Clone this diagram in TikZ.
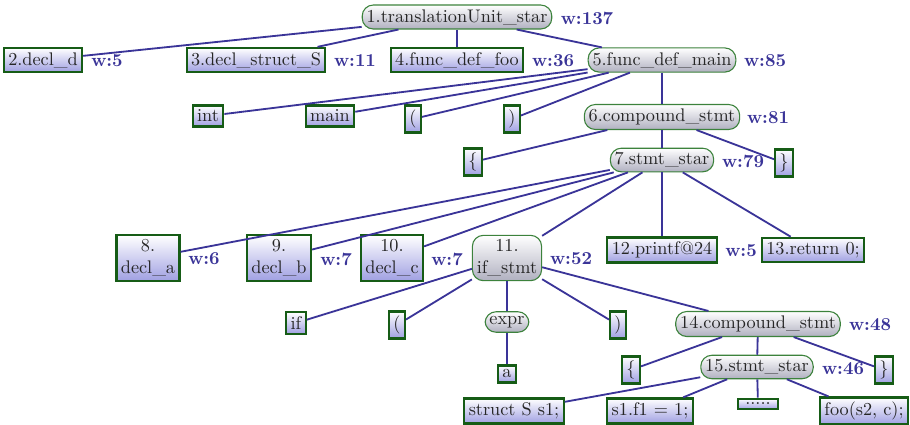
\documentclass[tikz,border=0pt]{standalone}
\usepackage{tikz}
\definecolor{edgeblue}{RGB}{58,52,152}
\definecolor{leafgreen}{RGB}{22,92,22}
\definecolor{innergreen}{RGB}{60,130,60}
\definecolor{leafblue}{RGB}{160,160,226}
\definecolor{innergray}{RGB}{176,176,192}
\tikzstyle{leaf} = [rectangle, draw=leafgreen, line width=1.2pt, top color=white, bottom color=leafblue, text=black!85, inner sep=2.4pt, align=center]
\tikzstyle{inner} = [rectangle, rounded corners=6pt, draw=innergreen, line width=0.6pt, top color=white, bottom color=innergray, text=black!85, inner sep=2.4pt, align=center]
\tikzstyle{weight} = [font=\bfseries, text=edgeblue]
\tikzstyle{edge} = [draw=edgeblue, line width=1pt]

\begin{document}
\begin{tikzpicture} [x=0.548pt, y=-0.548pt]
        \useasboundingbox (0,0) rectangle (910,424);
        % top level
        \node (n1) [inner] at (457,17) {1.translationUnit\_star};
        \node (w1) [weight] at (587,18) {w:137};
        \node (n2) [leaf] at (43,60) {2.decl\_d};
        \node (w2) [weight] at (107,61) {w:5};
        \node (n3) [leaf] at (256,60) {3.decl\_struct\_S};
        \node (w3) [weight] at (355,61) {w:11};
        \node (n4) [leaf] at (457,60) {4.func\_def\_foo};
        \node (w4) [weight] at (553,61) {w:36};
        \node (n5) [inner] at (662,60) {5.func\_def\_main};
        \node (w5) [weight] at (765,61) {w:85};
        % main function
        \node (int) [leaf] at (208,116) {int};
        \node (main) [leaf] at (330,116) {main};
        \node (lpar) [leaf] at (413,119) {(};
        \node (rpar) [leaf] at (512,119) {)};
        \node (n6) [inner] at (662,117) {6.compound\_stmt};
        \node (w6) [weight] at (768,118) {w:81};
        \node (lbr) [leaf] at (473,162) {\{};
        \node (n7) [inner] at (662,160) {7.stmt\_star};
        \node (w7) [weight] at (743,161) {w:79};
        \node (rbr) [leaf] at (784,163) {\}};
        % statements
        \node (n8) [leaf] at (148,258) {8.\\decl\_a};
        \node (w8) [weight] at (204,259) {w:6};
        \node (n9) [leaf] at (279,258) {9.\\decl\_b};
        \node (w9) [weight] at (336,259) {w:7};
        \node (n10) [leaf] at (392,258) {10.\\decl\_c};
        \node (w10) [weight] at (447,259) {w:7};
        \node (n11) [inner] at (507,258) {11.\\if\_stmt};
        \node (w11) [weight] at (571,259) {w:52};
        \node (n12) [leaf] at (662,250) {12.printf@24};
        \node (w12) [weight] at (741,251) {w:5};
        \node (n13) [leaf] at (813,250) {13.return 0;};
        % if statement
        \node (if) [leaf] at (296,323) {if};
        \node (iflpar) [leaf] at (397,325) {(};
        \node (expr) [inner] at (507,322) {expr};
        \node (ifrpar) [leaf] at (618,325) {)};
        \node (n14) [inner] at (758,324) {14.compound\_stmt};
        \node (w14) [weight] at (870,325) {w:48};
        \node (a) [leaf] at (507,374) {a};
        \node (iflbr) [leaf] at (631,370) {\{};
        \node (n15) [inner] at (757,367) {15.stmt\_star};
        \node (w15) [weight] at (843,369) {w:46};
        \node (ifrbr) [leaf] at (884,370) {\}};
        \node (s1) [leaf] at (514,411) {struct S s1;};
        \node (s2) [leaf] at (650,411) {s1.f1 = 1;};
        \node (s3) [leaf, inner xsep=4pt] at (758,404) {.....};
        \node (s4) [leaf] at (864,411) {foo(s2, c);};
        % edges
        \draw [edge] (n1) -- (n2);
        \draw [edge] (n1) -- (n3);
        \draw [edge] (n1) -- (n4);
        \draw [edge] (n1) -- (n5);
        \draw [edge] (n5) -- (int);
        \draw [edge] (n5) -- (main);
        \draw [edge] (n5) -- (lpar);
        \draw [edge] (n5) -- (rpar);
        \draw [edge] (n5) -- (n6);
        \draw [edge] (n6) -- (lbr);
        \draw [edge] (n6) -- (n7);
        \draw [edge] (n6) -- (rbr);
        \draw [edge] (n7) -- (n8);
        \draw [edge] (n7) -- (n9);
        \draw [edge] (n7) -- (n10);
        \draw [edge] (n7) -- (n11);
        \draw [edge] (n7) -- (n12);
        \draw [edge] (n7) -- (n13);
        \draw [edge] (n11) -- (if);
        \draw [edge] (n11) -- (iflpar);
        \draw [edge] (n11) -- (expr);
        \draw [edge] (n11) -- (ifrpar);
        \draw [edge] (n11) -- (n14);
        \draw [edge] (expr) -- (a);
        \draw [edge] (n14) -- (iflbr);
        \draw [edge] (n14) -- (n15);
        \draw [edge] (n14) -- (ifrbr);
        \draw [edge] (n15) -- (s1);
        \draw [edge] (n15) -- (s2);
        \draw [edge] (n15) -- (s3);
        \draw [edge] (n15) -- (s4);
\end{tikzpicture}
\end{document}
